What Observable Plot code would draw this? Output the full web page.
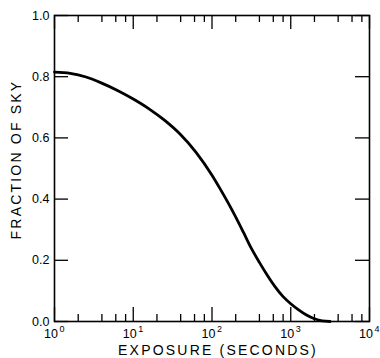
<!DOCTYPE html>
<html>
<head>
<meta charset="utf-8">
<script src="https://cdn.jsdelivr.net/npm/d3@7"></script>
<script src="https://cdn.jsdelivr.net/npm/@observablehq/plot@0.6"></script>
<style>
  html, body { margin: 0; padding: 0; background: #fff; }
  #chart svg { display: block; }
</style>
</head>
<body>
<div id="chart"></div>
<script>
// Curve: exposure time (s) vs fraction of sky
const exposure = [1, 1.585, 2.512, 3.981, 6.31, 10, 15.85, 25.12, 39.81, 63.1, 100, 125.9, 158.5, 199.5, 251.2, 316.2, 398.1, 501.2, 631, 794.3, 1000, 1259, 1585, 1995, 2512, 3162];
const fraction = [0.815, 0.811, 0.799, 0.779, 0.755, 0.727, 0.695, 0.657, 0.611, 0.552, 0.478, 0.435, 0.39, 0.342, 0.291, 0.239, 0.194, 0.152, 0.114, 0.082, 0.058, 0.038, 0.021, 0.009, 0.002, 0.0];

// Axis ticks
const xMajor = [1, 10, 100, 1000, 10000];
const xExponents = ["0", "1", "2", "3", "4"];
const xMinor = [2, 4, 6, 8, 20, 40, 60, 80, 200, 400, 600, 800, 2000, 4000, 6000, 8000];
const yTicks = [0, 0.2, 0.4, 0.6, 0.8, 1.0];

const xLabel = "EXPOSURE (SECONDS)";
const yLabel = "FRACTION OF SKY";

const W = 380, H = 358;
const mL = 54, mR = 11, mT = 15, mB = 37;
const innerH = H - mT - mB;
const innerW = W - mL - mR;
const majorLen = 14, minorLen = 7;

const data = exposure.map((t, i) => ({t, f: fraction[i]}));
const font = "'Liberation Sans', Arial, Helvetica, sans-serif";

const chart = Plot.plot({
  width: W,
  height: H,
  marginLeft: mL,
  marginRight: mR,
  marginTop: mT,
  marginBottom: mB,
  style: {fontFamily: font, color: "#000", background: "#fff"},
  x: {type: "log", domain: [1, 10000]},
  y: {domain: [0, 1]},
  marks: [
    Plot.axisX({ticks: [], label: null}),
    Plot.axisY({ticks: yTicks, tickSize: 0, tickPadding: 5, tickFormat: d3.format(".1f"), label: null, fontSize: 12.5}),
    // bottom ticks
    Plot.tickX(xMajor, {x: d => d, insetTop: innerH - majorLen, stroke: "#000", strokeWidth: 1.3}),
    Plot.tickX(xMinor, {x: d => d, insetTop: innerH - minorLen, stroke: "#000", strokeWidth: 1.3}),
    // top ticks
    Plot.tickX(xMajor, {x: d => d, insetBottom: innerH - majorLen, stroke: "#000", strokeWidth: 1.3}),
    Plot.tickX(xMinor, {x: d => d, insetBottom: innerH - minorLen, stroke: "#000", strokeWidth: 1.3}),
    // left / right ticks
    Plot.tickY(yTicks, {y: d => d, insetRight: innerW - majorLen, stroke: "#000", strokeWidth: 1.3}),
    Plot.tickY(yTicks, {y: d => d, insetLeft: innerW - majorLen, stroke: "#000", strokeWidth: 1.3}),
    Plot.frame({stroke: "#000", strokeWidth: 1.6}),
    // x tick labels: "10" with superscript exponent
    Plot.text(xMajor, {x: d => d, frameAnchor: "bottom", lineAnchor: "middle", text: () => "10", textAnchor: "end", dx: 3.5, dy: 12, fontSize: 12.5, fill: "#000"}),
    Plot.text(xMajor, {x: d => d, frameAnchor: "bottom", lineAnchor: "middle", text: (d, i) => xExponents[i], textAnchor: "start", dx: 5, dy: 8, fontSize: 9, fill: "#000"}),
    Plot.line(data, {x: "t", y: "f", curve: "monotone-x", stroke: "#000", strokeWidth: 2.8}),
    // axis titles
    Plot.text([xLabel], {text: d => d, frameAnchor: "bottom", textAnchor: "middle", lineAnchor: "middle", dy: 29, dx: 6, fontSize: 14, fill: "#000", className: "lbl"}),
    Plot.text([yLabel], {text: d => d, frameAnchor: "left", textAnchor: "middle", lineAnchor: "middle", rotate: -90, dx: -38, dy: -9, fontSize: 14, fill: "#000", className: "lbl"})
  ]
});
document.getElementById("chart").appendChild(chart);
chart.querySelectorAll(".lbl text").forEach(t => t.style.letterSpacing = "2.2px");
</script>
</body>
</html>
